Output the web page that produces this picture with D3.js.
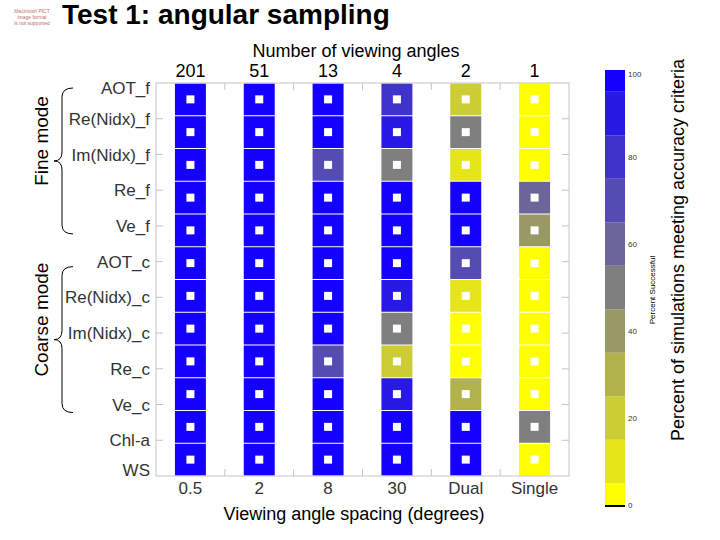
<!DOCTYPE html>
<html>
<head>
<meta charset="utf-8">
<script src="https://cdn.jsdelivr.net/npm/d3@7"></script>
<style>
  body { margin: 0; background: #fff; }
  svg { display: block; font-family: "Liberation Sans", Arial, sans-serif; }
</style>
</head>
<body>
<svg width="720" height="540"></svg>
<script>
// categories
const params = ['AOT_f', 'Re(Nidx)_f', 'Im(Nidx)_f', 'Re_f', 'Ve_f',
  'AOT_c', 'Re(Nidx)_c', 'Im(Nidx)_c', 'Re_c', 'Ve_c', 'Chl-a', 'WS'];
const angleCounts = ['201', '51', '13', '4', '2', '1'];
const spacings = ['0.5', '2', '8', '30', 'Dual', 'Single'];

// percent successful, one array per column (rows in params order)
const pct201 = [100, 100, 100, 100, 100, 100, 100, 100, 100, 100, 100, 100];
const pct51 = [100, 100, 100, 100, 100, 100, 100, 100, 100, 100, 100, 100];
const pct13 = [100, 100, 70, 100, 100, 100, 100, 100, 70, 100, 100, 100];
const pct4 = [80, 90, 50, 100, 100, 100, 90, 50, 20, 90, 100, 100];
const pctDual = [20, 50, 10, 100, 100, 70, 10, 0, 0, 30, 100, 100];
const pctSingle = [0, 0, 0, 60, 40, 0, 0, 0, 0, 0, 50, 0];

const colorTicks = [0, 20, 40, 60, 80, 100];
const colorLevels = [0, 10, 20, 30, 40, 50, 60, 70, 80, 90, 100];

const columns = [pct201, pct51, pct13, pct4, pctDual, pctSingle];
const cells = [];
columns.forEach((col, ci) => {
  col.forEach((v, ri) => cells.push({ col: spacings[ci], row: params[ri], value: v }));
});

const svg = d3.select('svg');

const x = d3.scaleBand()
    .domain(spacings)
    .range([156, 569])
    .paddingInner(0.55)
    .paddingOuter(0.275);

const y = d3.scaleBand()
    .domain(params)
    .range([83, 476]);

// tick/label positions of the row axis (evenly spread over frame)
const yTick = d3.scalePoint()
    .domain(params)
    .range([83, 476]);

const color = d3.scaleLinear()
    .domain([0, 50, 100])
    .range(['#ffff00', '#7f7f7f', '#1400ff']);
const levelColor = v => color(Math.round(v / 10) * 10);

// title
svg.append('text')
    .attr('x', 62).attr('y', 24)
    .attr('font-size', 28).attr('font-weight', 'bold')
    .text('Test 1: angular sampling');

// missing-image placeholder
const ph = svg.append('g').attr('fill', '#c07070').attr('font-size', 5).attr('text-anchor', 'middle');
['Macintosh PICT', 'image format', 'is not supported'].forEach((t, i) => {
  ph.append('text').attr('x', 32).attr('y', 13 + i * 6).text(t);
});

// cells
const g = svg.append('g');
g.selectAll('rect.cell')
  .data(cells)
  .enter().append('rect')
    .attr('class', 'cell')
    .attr('x', d => x(d.col))
    .attr('y', d => y(d.row) + 0.5)
    .attr('width', x.bandwidth())
    .attr('height', y.bandwidth() - 1)
    .attr('fill', d => levelColor(d.value));

g.selectAll('rect.dot')
  .data(cells)
  .enter().append('rect')
    .attr('class', 'dot')
    .attr('x', d => x(d.col) + x.bandwidth() / 2 - 4)
    .attr('y', d => y(d.row) + y.bandwidth() / 2 - 4)
    .attr('width', 8)
    .attr('height', 8)
    .attr('fill', '#fff');

// frame
const frame = svg.append('g').attr('stroke', '#c4c4c4').attr('fill', 'none');
frame.append('rect')
    .attr('x', x.range()[0]).attr('y', y.range()[0])
    .attr('width', x.range()[1] - x.range()[0])
    .attr('height', y.range()[1] - y.range()[0]);

// column separators ticks top & bottom
const step = x.step();
const sepX = d3.range(1, spacings.length).map(i => x.range()[0] + i * step);
sepX.forEach(sx => {
  frame.append('line').attr('x1', sx).attr('x2', sx).attr('y1', 83).attr('y2', 90);
  frame.append('line').attr('x1', sx).attr('x2', sx).attr('y1', 476).attr('y2', 469);
});
// row ticks left & right
params.slice(1, -1).forEach(p => {
  const ty = yTick(p);
  frame.append('line').attr('x1', 156).attr('x2', 163).attr('y1', ty).attr('y2', ty);
  frame.append('line').attr('x1', 569).attr('x2', 562).attr('y1', ty).attr('y2', ty);
});

// row labels
svg.append('g')
    .attr('font-size', 17).attr('fill', '#333').attr('text-anchor', 'end')
  .selectAll('text')
  .data(params)
  .enter().append('text')
    .attr('x', 150)
    .attr('y', d => Math.min(Math.max(yTick(d), 88), 470))
    .attr('dy', '0.36em')
    .text(d => d);

// top labels
svg.append('text')
    .attr('x', 356).attr('y', 57)
    .attr('font-size', 18).attr('text-anchor', 'middle')
    .text('Number of viewing angles');
svg.append('g')
    .attr('font-size', 18).attr('text-anchor', 'middle')
  .selectAll('text')
  .data(angleCounts)
  .enter().append('text')
    .attr('x', (d, i) => x(spacings[i]) + x.bandwidth() / 2)
    .attr('y', 77)
    .text(d => d);

// bottom labels
svg.append('g')
    .attr('font-size', 17).attr('fill', '#333').attr('text-anchor', 'middle')
  .selectAll('text')
  .data(spacings)
  .enter().append('text')
    .attr('x', d => x(d) + x.bandwidth() / 2)
    .attr('y', 494)
    .text(d => d);
svg.append('text')
    .attr('x', 354).attr('y', 520)
    .attr('font-size', 18).attr('text-anchor', 'middle')
    .text('Viewing angle spacing (degrees)');

// group braces
function brace(first, last, label) {
  const y1 = yTick(first) + 5, y2 = yTick(last) + 8, ym = (y1 + y2) / 2;
  const x0 = 73, xs = 62, xt = 54, r = 9;
  svg.append('path')
      .attr('fill', 'none').attr('stroke', '#000').attr('stroke-width', 1)
      .attr('d', `M${x0},${y1} Q${xs},${y1} ${xs},${y1 + r} L${xs},${ym - r} Q${xs},${ym} ${xt},${ym}` +
                 ` Q${xs},${ym} ${xs},${ym + r} L${xs},${y2 - r} Q${xs},${y2} ${x0},${y2}`);
  svg.append('text')
      .attr('transform', `translate(48,${ym - 20}) rotate(-90)`)
      .attr('font-size', 19).attr('text-anchor', 'middle')
      .text(label);
}
brace('AOT_f', 'Ve_f', 'Fine mode');
brace('AOT_c', 'Ve_c', 'Coarse mode');

// colour bar
const cy = d3.scaleLinear().domain([0, 100]).range([505, 70]);
const cb = svg.append('g');
cb.selectAll('rect')
  .data(colorLevels)
  .enter().append('rect')
    .attr('x', 605)
    .attr('width', 20)
    .attr('y', d => cy(Math.min(d + 5, 100)))
    .attr('height', d => cy(Math.max(d - 5, 0)) - cy(Math.min(d + 5, 100)))
    .attr('fill', d => color(d));
cb.append('rect')
    .attr('x', 605).attr('y', cy(0)).attr('width', 20).attr('height', 2)
    .attr('fill', '#000');
cb.selectAll('text')
  .data(colorTicks)
  .enter().append('text')
    .attr('x', 628)
    .attr('y', d => Math.max(cy(d), 74))
    .attr('dy', '0.35em')
    .attr('font-size', 8).attr('fill', '#333')
    .text(d => d);
svg.append('text')
    .attr('transform', 'translate(655,290) rotate(-90)')
    .attr('font-size', 8).attr('text-anchor', 'middle')
    .text('Percent Successful');
svg.append('text')
    .attr('transform', 'translate(684,250) rotate(-90)')
    .attr('font-size', 18).attr('text-anchor', 'middle')
    .text('Percent of simulations meeting accuracy criteria');
</script>
</body>
</html>
